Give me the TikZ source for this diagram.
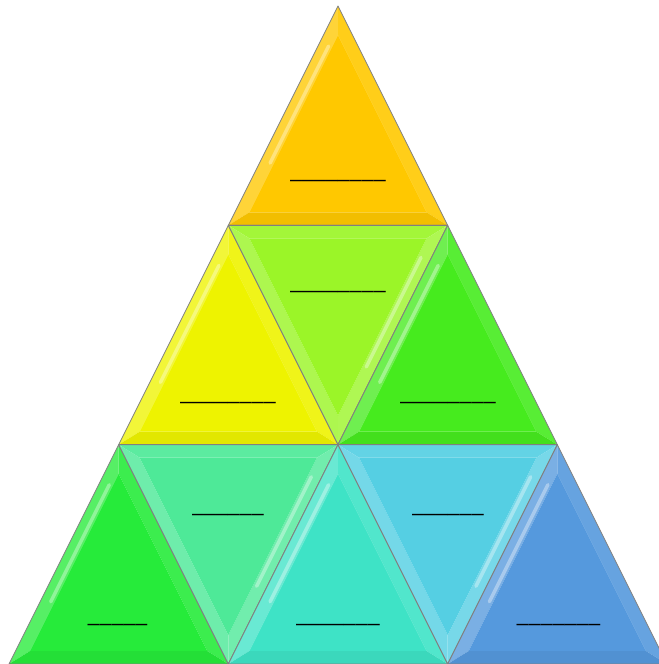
\documentclass[tikz,border=0pt]{standalone}
\usepackage{fontspec}
\setmainfont{Carlito}
\usetikzlibrary{calc}
\definecolor{cTop}{RGB}{255,200,0}
\definecolor{cYel}{RGB}{238,243,0}
\definecolor{cLim}{RGB}{155,245,40}
\definecolor{cGrn}{RGB}{70,235,30}
\definecolor{cGr2}{RGB}{38,235,58}
\definecolor{cTea}{RGB}{78,233,152}
\definecolor{cCya}{RGB}{62,227,198}
\definecolor{cSky}{RGB}{85,207,227}
\definecolor{cBlu}{RGB}{85,153,221}
\tikzset{
  edge/.style={draw=black!50,line width=0.5pt,line join=round},
  lab/.style={anchor=base,inner sep=0pt,font=\fontsize{13.7}{14}\selectfont},
  hilite/.style={draw=white,opacity=0.35,line width=2pt,line cap=round}
}
% up triangle: #1 = centre x, #2 = base y, #3 = colour
\newcommand\uptri[3]{%
  \coordinate (A) at (#1,#2-219.33);
  \coordinate (L) at (#1-109.67,#2);
  \coordinate (R) at (#1+109.67,#2);
  \coordinate (I) at (#1,#2-67.8);
  \coordinate (a) at ($(I)!0.808!(A)$);
  \coordinate (l) at ($(I)!0.808!(L)$);
  \coordinate (r) at ($(I)!0.808!(R)$);
  \coordinate (a2) at ($(I)!0.86!(A)$);
  \coordinate (l2) at ($(I)!0.86!(L)$);
  \fill[#3!78!white] (A)--(L)--(l)--(a)--cycle;
  \fill[#3!90!white] (A)--(R)--(r)--(a)--cycle;
  \fill[#3!95!black] (L)--(R)--(r)--(l)--cycle;
  \fill[#3] (a)--(l)--(r)--cycle;
  \draw[hilite] ($(a2)!0.1!(l2)$)--($(a2)!0.72!(l2)$);
  \draw[edge] (A)--(L)--(R)--cycle;
}
% down triangle: #1 = centre x, #2 = top y, #3 = colour
\newcommand\dntri[3]{%
  \coordinate (A) at (#1-109.67,#2);
  \coordinate (B) at (#1+109.67,#2);
  \coordinate (C) at (#1,#2+219.33);
  \coordinate (I) at (#1,#2+67.8);
  \coordinate (a) at ($(I)!0.808!(A)$);
  \coordinate (b) at ($(I)!0.808!(B)$);
  \coordinate (c) at ($(I)!0.808!(C)$);
  \coordinate (b2) at ($(I)!0.86!(B)$);
  \coordinate (c2) at ($(I)!0.86!(C)$);
  \fill[#3!92!white] (A)--(B)--(b)--(a)--cycle;
  \fill[#3!82!white] (A)--(C)--(c)--(a)--cycle;
  \fill[#3!80!white] (B)--(C)--(c)--(b)--cycle;
  \fill[#3] (a)--(b)--(c)--cycle;
  \draw[hilite] ($(b2)!0.12!(c2)$)--($(b2)!0.7!(c2)$);
  \draw[edge] (A)--(B)--(C)--cycle;
}
\begin{document}
\begin{tikzpicture}[x=0.02cm,y=-0.02cm]
\useasboundingbox (0,0) rectangle (659,664);
% row 1
\uptri{338}{225.33}{cTop}
% row 2
\uptri{228.33}{444.67}{cYel}
\dntri{338}{225.33}{cLim}
\uptri{447.67}{444.67}{cGrn}
% row 3
\uptri{118.67}{664}{cGr2}
\dntri{228.33}{444.67}{cTea}
\uptri{338}{664}{cCya}
\dntri{447.67}{444.67}{cSky}
\uptri{557.33}{664}{cBlu}
% labels
\node[lab] (t1) at (338,178) {\_\_\_\_\_\_\_\_};
\node[lab] (t2) at (228,400) {\_\_\_\_\_\_\_\_};
\node[lab] (t3) at (338,289) {\_\_\_\_\_\_\_\_};
\node[lab] (t4) at (448,400) {\_\_\_\_\_\_\_\_};
\node[lab] (t5) at (117.5,622) {\_\_\_\_\_};
\node[lab] (t6) at (228,512) {\_\_\_\_\_\_};
\node[lab] (t7) at (338,622) {\_\_\_\_\_\_\_};
\node[lab] (t8) at (448,512) {\_\_\_\_\_\_};
\node[lab] (t9) at (558.5,622) {\_\_\_\_\_\_\_};
\end{tikzpicture}
\end{document}
